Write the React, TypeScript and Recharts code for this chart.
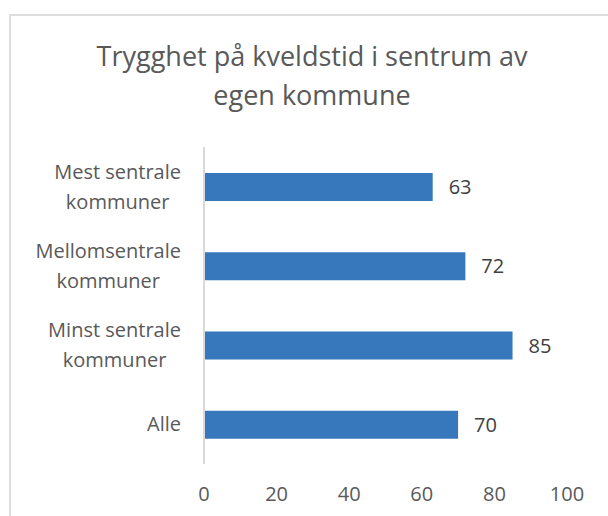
import { BarChart, Bar, XAxis, YAxis, LabelList } from "recharts";

const categories = [
  "Mest sentrale kommuner",
  "Mellomsentrale kommuner",
  "Minst sentrale kommuner",
  "Alle",
];
const values = [63, 72, 85, 70];
const xTicks = [0, 20, 40, 60, 80, 100];

const data = categories.map((name, i) => ({ name, value: values[i] }));

const FONT = "'Open Sans', sans-serif";

// measure label width so multi-line labels can be centred on each other (like Excel)
let ctx: CanvasRenderingContext2D | null = null;
const measure = (s: string) => {
  if (!ctx) ctx = document.createElement("canvas").getContext("2d");
  if (!ctx) return s.length * 10;
  ctx.font = "20px 'Open Sans'";
  return ctx.measureText(s).width;
};

const CategoryTick = ({ x, y, payload }: any) => {
  const label: string = payload.value;
  const cut = label.lastIndexOf(" ");
  const lines = label.length > 12 && cut > 0 ? [label.slice(0, cut), label.slice(cut + 1)] : [label];
  const w = Math.max(...lines.map(measure));
  const cx = x - w / 2;
  const first = lines.length === 1 ? 7 : -8;
  return (
    <text x={cx} y={y} textAnchor="middle" fill="#595959" fontSize={20} fontFamily={FONT}>
      {lines.map((l, i) => (
        <tspan key={i} x={cx} dy={i === 0 ? first : 30}>
          {l}
        </tspan>
      ))}
    </text>
  );
};

export default function App() {
  return (
    <div
      style={{
        position: "absolute",
        left: 0,
        top: 0,
        width: 608,
        height: 516,
        background: "#fff",
        overflow: "hidden",
        fontFamily: FONT,
      }}
    >
      <div
        style={{
          position: "absolute",
          left: 9,
          top: 14,
          width: 700,
          height: 600,
          border: "2px solid #dedede",
        }}
      />
      <div
        style={{
          position: "absolute",
          left: 0,
          top: 36,
          width: 624,
          textAlign: "center",
          fontSize: 27,
          lineHeight: "39px",
          color: "#595959",
        }}
      >
        Trygghet på kveldstid i sentrum av
        <br />
        egen kommune
      </div>
      <div style={{ position: "absolute", left: 0, top: 0 }}>
        <BarChart
          width={608}
          height={516}
          data={data}
          layout="vertical"
          margin={{ top: 147, right: 41, bottom: 0, left: 0 }}
        >
          <XAxis
            type="number"
            domain={[0, 100]}
            ticks={xTicks}
            height={52}
            axisLine={false}
            tickLine={false}
            tickMargin={17}
            interval={0}
            tick={{ fill: "#595959", fontSize: 20, fontFamily: FONT }}
          />
          <YAxis
            type="category"
            dataKey="name"
            width={204}
            axisLine={{ stroke: "#d9d9d9", strokeWidth: 2 }}
            tickLine={false}
            tickMargin={17}
            interval={0}
            tick={<CategoryTick />}
          />
          <Bar dataKey="value" fill="#3777bc" barSize={28} isAnimationActive={false}>
            <LabelList
              dataKey="value"
              position="right"
              offset={16}
              fill="#404040"
              fontSize={20}
              fontFamily={FONT}
            />
          </Bar>
        </BarChart>
      </div>
    </div>
  );
}
